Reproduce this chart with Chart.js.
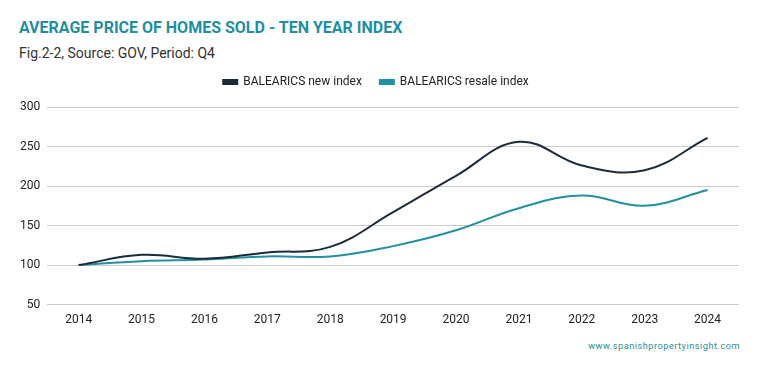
<!DOCTYPE html>
<html>
<head>
<meta charset="utf-8">
<script src="https://cdn.jsdelivr.net/npm/chart.js@4"></script>
<style>
    body { margin: 0; background: #fff; font-family: Roboto, sans-serif; }
    #wrap { position: relative; width: 759px; height: 371px; }
    .title { position: absolute; left: 19px; top: 18px; font-size: 16px; font-weight: 700; color: #1f8fa0; }
    .subtitle { position: absolute; left: 19px; top: 45px; font-size: 14px; color: #333; }
    .footer { position: absolute; right: 19px; top: 340px; font-size: 9.2px; color: #1f8fa0; letter-spacing: 0.5px; }
    #chartBox { position: absolute; left: 0; top: 58px; width: 759px; height: 269px; }
</style>
</head>
<body>
<div id="wrap">
    <div class="title">AVERAGE PRICE OF HOMES SOLD - TEN YEAR INDEX</div>
    <div class="subtitle">Fig.2-2, Source: GOV, Period: Q4</div>
    <div id="chartBox"><canvas id="chart"></canvas></div>
    <div class="footer">www.spanishpropertyinsight.com</div>
</div>
<script>
// Données
const years = ['2014', '2015', '2016', '2017', '2018', '2019', '2020', '2021', '2022', '2023', '2024'];
const newIndex = [100, 113, 108, 116, 123, 167, 213, 256, 226, 220, 261];
const resaleIndex = [100, 105, 107, 111, 111, 124, 144, 172, 188, 175, 195];
const yTicks = [50, 100, 150, 200, 250, 300];

// Espace sous la légende
const legendSpacing = {
    id: 'legendSpacing',
    beforeInit(chart) {
        const origFit = chart.legend.fit;
        chart.legend.fit = function () {
            origFit.bind(chart.legend)();
            this.height += 9;
        };
    }
};

const ctx = document.getElementById('chart');

new Chart(ctx, {
    type: 'line',
    data: {
        labels: years,
        datasets: [
            {
                label: 'BALEARICS new index',
                data: newIndex,
                borderColor: '#1c2b3b',
                backgroundColor: '#1c2b3b',
                borderWidth: 2,
                pointRadius: 0,
                tension: 0.4
            },
            {
                label: 'BALEARICS resale index',
                data: resaleIndex,
                borderColor: '#2191a1',
                backgroundColor: '#2191a1',
                borderWidth: 2,
                pointRadius: 0,
                tension: 0.4
            }
        ]
    },
    options: {
        responsive: true,
        maintainAspectRatio: false,
        animation: false,
        layout: { padding: { left: 13, right: 20, top: 0, bottom: 0 } },
        plugins: {
            legend: {
                position: 'top',
                labels: {
                    color: '#222',
                    font: { family: 'Roboto', size: 12 },
                    boxWidth: 14,
                    boxHeight: 4,
                    padding: 18
                }
            },
            tooltip: { enabled: false }
        },
        scales: {
            x: {
                offset: true,
                grid: { display: false },
                border: { display: false },
                ticks: {
                    color: '#222',
                    font: { family: 'Roboto', size: 12 },
                    maxRotation: 0,
                    padding: 0
                }
            },
            y: {
                min: 50,
                max: 300,
                afterBuildTicks: (axis) => {
                    axis.ticks = yTicks.map(v => ({ value: v }));
                },
                grid: { color: '#cccccc', drawTicks: false },
                border: { display: false },
                ticks: {
                    color: '#222',
                    font: { family: 'Roboto', size: 12 },
                    padding: 7
                }
            }
        }
    },
    plugins: [legendSpacing]
});
</script>
</body>
</html>
